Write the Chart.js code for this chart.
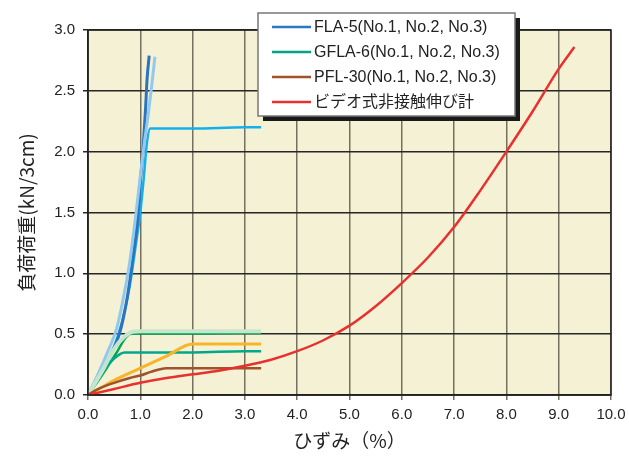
<!DOCTYPE html>
<html>
<head>
<meta charset="utf-8">
<script src="https://cdn.jsdelivr.net/npm/chart.js@4/dist/chart.umd.min.js"></script>
<style>
  html, body { margin: 0; padding: 0; background: #fff; }
  #wrap { width: 629px; height: 456px; }
</style>
</head>
<body>
<div id="wrap"><canvas id="chart" width="629" height="456"></canvas></div>
<script>
// strain (%) / load (kN/3cm)
const fla1X = [0, 0.2, 0.4, 0.6, 0.75, 0.85, 0.95, 1.0, 1.05, 1.1, 1.13, 1.17];
const fla1Y = [0, 0.15, 0.3, 0.5, 0.8, 1.1, 1.45, 1.75, 2.0, 2.35, 2.6, 2.79];
const fla2X = [0, 0.2, 0.4, 0.55, 0.7, 0.8, 0.92, 1.0, 1.07, 1.15, 1.22, 1.28];
const fla2Y = [0, 0.18, 0.38, 0.55, 0.85, 1.1, 1.5, 1.8, 2.05, 2.3, 2.55, 2.78];
const fla3X = [0, 0.25, 0.5, 0.65, 0.8, 0.92, 1.0, 1.07, 1.12, 1.19, 2.0, 3.0, 3.31];
const fla3Y = [0, 0.2, 0.4, 0.6, 0.9, 1.25, 1.5, 1.8, 2.05, 2.19, 2.19, 2.2, 2.2];

const gfla1X = [0, 0.2, 0.4, 0.55, 0.7, 0.8, 0.9, 2.0, 3.0, 3.31];
const gfla1Y = [0, 0.12, 0.25, 0.35, 0.46, 0.5, 0.505, 0.505, 0.51, 0.51];
const gfla2X = [0, 0.3, 0.5, 0.7, 1.0, 2.0, 3.0, 3.31];
const gfla2Y = [0, 0.2, 0.3, 0.35, 0.35, 0.35, 0.36, 0.36];
const gfla3X = [0, 0.25, 0.5, 0.7, 0.85, 1.0, 2.0, 3.31];
const gfla3Y = [0, 0.18, 0.38, 0.48, 0.52, 0.525, 0.525, 0.525];

const pfl1X = [0, 0.2, 0.5, 0.8, 1.0, 1.2, 1.5, 2.0, 3.0, 3.31];
const pfl1Y = [0, 0.05, 0.1, 0.14, 0.16, 0.19, 0.22, 0.22, 0.22, 0.22];
const pfl2X = [0, 0.25, 0.5, 1.0, 1.5, 2.0, 2.5, 3.0, 3.31];
const pfl2Y = [0, 0.06, 0.12, 0.22, 0.32, 0.42, 0.42, 0.42, 0.42];

const videoX = [0, 0.5, 1.0, 1.5, 2.0, 2.5, 3.0, 3.5, 4.0, 4.5, 5.0, 5.5, 6.0, 6.5, 7.0, 7.5, 8.0, 8.5, 9.0, 9.3];
const videoY = [0, 0.05, 0.1, 0.14, 0.17, 0.2, 0.24, 0.29, 0.36, 0.45, 0.57, 0.73, 0.92, 1.13, 1.38, 1.68, 2.0, 2.33, 2.68, 2.86];

const xTicks = [0, 1, 2, 3, 4, 5, 6, 7, 8, 9, 10];
const yTicks = [0, 0.5, 1.0, 1.5, 2.0, 2.5, 3.0];

const legendLabels = ['FLA-5(No.1, No.2, No.3)', 'GFLA-6(No.1, No.2, No.3)', 'PFL-30(No.1, No.2, No.3)', 'ビデオ式非接触伸び計'];
const legendColors = ['#2878c3', '#00a684', '#a0522d', '#e8312f'];

function pts(xs, ys) {
    return xs.map((x, i) => ({ x: x, y: ys[i] }));
}

function series(xs, ys, color, width) {
    return {
        data: pts(xs, ys),
        borderColor: color,
        borderWidth: width || 2.5,
        pointRadius: 0,
        fill: false,
        cubicInterpolationMode: 'monotone'
    };
}

const datasets = [
    series(videoX, videoY, '#e8312f', 2.5),
    series(pfl1X, pfl1Y, '#a0522d'),
    series(pfl2X, pfl2Y, '#f7b52a', 3),
    series(gfla3X, gfla3Y, '#c5e6cc', 4),
    series(gfla2X, gfla2Y, '#00a88a'),
    series(gfla1X, gfla1Y, '#00a550'),
    series(fla2X, fla2Y, '#93c9ee', 3),
    series(fla1X, fla1Y, '#2a74c0', 3),
    series(fla3X, fla3Y, '#14b0ec', 2.5)
];

// cream plot background and frame
const plotFrame = {
    id: 'plotFrame',
    beforeDraw(chart) {
        const a = chart.chartArea, c = chart.ctx;
        c.save();
        c.fillStyle = '#f4f1d5';
        c.fillRect(a.left, a.top, a.right - a.left, a.bottom - a.top);
        c.restore();
    },
    afterDraw(chart) {
        const a = chart.chartArea, c = chart.ctx;
        c.save();
        c.strokeStyle = '#222';
        c.lineWidth = 1.5;
        c.strokeRect(a.left, a.top, a.right - a.left, a.bottom - a.top);
        c.restore();
    }
};

// boxed legend with a dark drop shadow
const boxLegend = {
    id: 'boxLegend',
    afterDraw(chart) {
        const c = chart.ctx;
        const x = 258, y = 13, w = 257, h = 103;
        c.save();
        c.fillStyle = '#1a1a1a';
        c.fillRect(x + 5, y + 5, w, h);
        c.fillStyle = '#fff';
        c.fillRect(x, y, w, h);
        c.strokeStyle = '#777';
        c.lineWidth = 1.5;
        c.strokeRect(x, y, w, h);
        c.font = '16px "Liberation Sans", "Noto Sans CJK JP", sans-serif';
        c.textBaseline = 'middle';
        legendLabels.forEach((lab, i) => {
            const cy = y + 14 + i * 25;
            c.strokeStyle = legendColors[i];
            c.lineWidth = 2.5;
            c.beginPath();
            c.moveTo(x + 14, cy);
            c.lineTo(x + 53, cy);
            c.stroke();
            c.fillStyle = '#222';
            c.fillText(lab, x + 56, cy + 1);
        });
        c.restore();
    }
};

new Chart(document.getElementById('chart'), {
    type: 'line',
    data: { datasets: datasets },
    options: {
        responsive: false,
        animation: false,
        layout: { padding: { top: 30, right: 18, left: 0, bottom: 0 } },
        plugins: {
            legend: { display: false },
            tooltip: { enabled: false }
        },
        scales: {
            x: {
                type: 'linear',
                min: 0,
                max: 10,
                afterBuildTicks: axis => { axis.ticks = xTicks.map(v => ({ value: v })); },
                ticks: {
                    callback: v => v.toFixed(1),
                    color: '#222',
                    font: { size: 15, family: '"Liberation Sans", sans-serif' },
                    padding: 6,
                    maxRotation: 0
                },
                grid: { color: '#77705f', lineWidth: 1.5, tickLength: 5 },
                border: { color: '#222', width: 1.5 },
                title: {
                    display: true,
                    text: 'ひずみ（%）',
                    color: '#222',
                    font: { size: 19, family: '"Noto Sans CJK JP", sans-serif' },
                    padding: { top: 0, bottom: 4 }
                },
                afterFit: axis => {
                    axis.height = 61;
                    axis.paddingLeft = 0;
                    axis.paddingRight = 0;
                }
            },
            y: {
                type: 'linear',
                min: 0,
                max: 3,
                afterBuildTicks: axis => { axis.ticks = yTicks.map(v => ({ value: v })); },
                ticks: {
                    callback: v => v.toFixed(1),
                    color: '#222',
                    font: { size: 15, family: '"Liberation Sans", sans-serif' },
                    padding: 8
                },
                grid: { color: '#262626', lineWidth: 1.5, tickLength: 5 },
                border: { color: '#222', width: 1.5 },
                title: {
                    display: true,
                    text: '負荷荷重(kN/3cm)',
                    color: '#222',
                    font: { size: 19, family: '"Noto Sans CJK JP", sans-serif' },
                    padding: { top: 15, bottom: 0 }
                },
                afterFit: axis => {
                    axis.width = 88;
                    axis.paddingTop = 0;
                    axis.paddingBottom = 0;
                }
            }
        }
    },
    plugins: [plotFrame, boxLegend]
});
</script>
</body>
</html>
